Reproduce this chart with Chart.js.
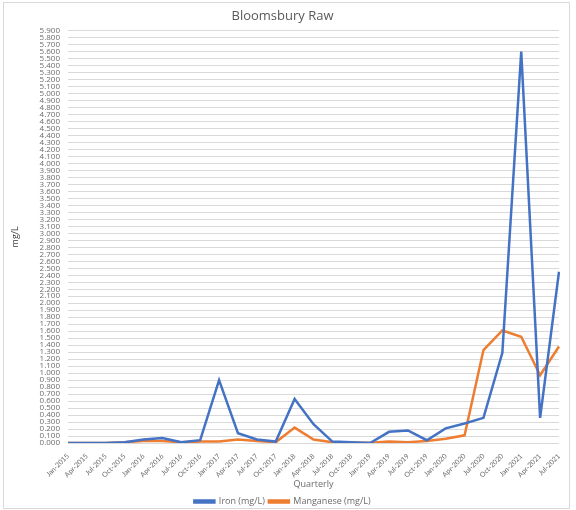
<!DOCTYPE html>
<html>
<head>
<meta charset="utf-8">
<script src="https://cdn.jsdelivr.net/npm/chart.js@4.4.1/dist/chart.umd.min.js"></script>
<style>
  html, body { margin: 0; padding: 0; background: #fff; }
  #wrap { position: relative; width: 576px; height: 510px; }
  #frame { position: absolute; left: 3px; top: 2px; width: 565px; height: 505px; border: 1px solid #d9d9d9; pointer-events: none; }
</style>
</head>
<body>
<div id="wrap">
  <canvas id="chart" width="576" height="510"></canvas>
  <div id="frame"></div>
</div>
<script>
// ==============================
// DATA
// ==============================
const quarters = [
    "Jan-2015", "Apr-2015", "Jul-2015", "Oct-2015",
    "Jan-2016", "Apr-2016", "Jul-2016", "Oct-2016",
    "Jan-2017", "Apr-2017", "Jul-2017", "Oct-2017",
    "Jan-2018", "Apr-2018", "Jul-2018", "Oct-2018",
    "Jan-2019", "Apr-2019", "Jul-2019", "Oct-2019",
    "Jan-2020", "Apr-2020", "Jul-2020", "Oct-2020",
    "Jan-2021", "Apr-2021", "Jul-2021"
];

const ironValues = [
    0, 0, 0, 0.01,
    0.05, 0.07, 0.01, 0.04,
    0.9, 0.14, 0.05, 0.02,
    0.63, 0.27, 0.02, 0.01,
    0, 0.16, 0.18, 0.04,
    0.21, 0.28, 0.36, 1.29,
    5.6, 0.36, 2.45
];

const manganeseValues = [
    0, 0, 0, 0.01,
    0.03, 0.03, 0.01, 0.02,
    0.02, 0.05, 0.03, 0.01,
    0.22, 0.05, 0.01, 0.005,
    0.005, 0.02, 0.01, 0.03,
    0.06, 0.11, 1.33, 1.61,
    1.52, 0.97, 1.38
];

const yMax = 5.9;
const yStep = 0.1;

// ==============================
// CHART
// ==============================
const textGray = "#6b6b6b";
const gridGray = "#d9d9d9";
const fontFamily = "'Open Sans', 'Noto Sans', sans-serif";
const narrowFont = "Lato, 'Open Sans', sans-serif";

new Chart(document.getElementById("chart"), {
    type: "line",
    data: {
        labels: quarters,
        datasets: [
            {
                label: "Iron (mg/L)",
                data: ironValues,
                borderColor: "#4472C4",
                backgroundColor: "#4472C4",
                borderWidth: 2.5,
                pointRadius: 0,
                tension: 0
            },
            {
                label: "Manganese (mg/L)",
                data: manganeseValues,
                borderColor: "#ED7D31",
                backgroundColor: "#ED7D31",
                borderWidth: 2.5,
                pointRadius: 0,
                tension: 0
            }
        ]
    },
    options: {
        responsive: false,
        animation: false,
        // legend box keeps 10px of empty space under it, so pull it down a bit
        layout: { padding: { left: 6, right: 17, top: 0, bottom: -6 } },
        plugins: {
            title: {
                display: true,
                text: "Bloomsbury Raw",
                color: "#595959",
                font: { family: fontFamily, size: 13, weight: "normal" },
                padding: { top: 8, bottom: 7 }
            },
            legend: {
                position: "bottom",
                labels: {
                    color: textGray,
                    font: { family: fontFamily, size: 9 },
                    boxWidth: 20,
                    boxHeight: 2,
                    padding: 4
                }
            },
            tooltip: { enabled: false }
        },
        scales: {
            x: {
                offset: false,
                afterFit: (scale) => { scale.height = 50; },
                grid: { display: false },
                border: { display: false },
                ticks: {
                    color: textGray,
                    font: { family: narrowFont, size: 7 },
                    minRotation: 45,
                    maxRotation: 45,
                    autoSkip: false,
                    padding: 1
                },
                title: {
                    display: true,
                    text: "Quarterly",
                    color: textGray,
                    font: { family: fontFamily, size: 9 },
                    padding: { top: 2, bottom: 3 }
                }
            },
            y: {
                min: 0,
                max: yMax,
                afterFit: (scale) => { scale.width = 62; },
                grid: { color: gridGray, lineWidth: 1, drawTicks: false },
                border: { display: false },
                ticks: {
                    stepSize: yStep,
                    maxTicksLimit: 100,
                    autoSkip: false,
                    color: textGray,
                    font: { family: fontFamily, size: 8 },
                    padding: 8,
                    callback: (v) => Number(v).toFixed(3)
                },
                title: {
                    display: true,
                    text: "mg/L",
                    color: "#404040",
                    font: { family: fontFamily, size: 9 },
                    padding: { top: 4, bottom: 0 }
                }
            }
        }
    }
});
</script>
</body>
</html>
